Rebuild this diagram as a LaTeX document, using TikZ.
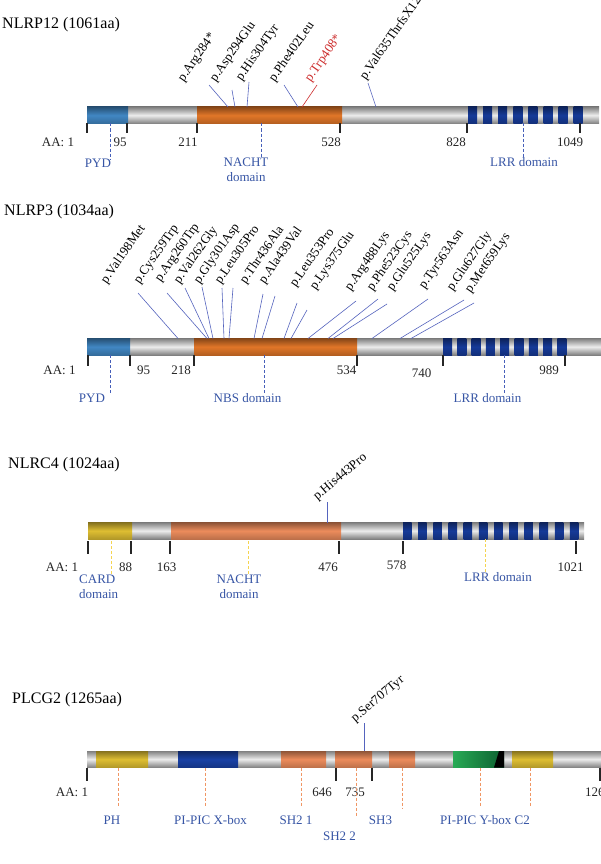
\documentclass[tikz,border=0pt]{standalone}
\usepackage{fontspec}
\setmainfont{Liberation Serif}
\definecolor{barD}{RGB}{128,128,128}
\definecolor{barL}{RGB}{236,236,236}
\definecolor{orgA}{RGB}{225,118,40}
\definecolor{orgB}{RGB}{236,140,92}
\definecolor{pydblue}{RGB}{65,135,195}
\definecolor{lrrblue}{RGB}{22,58,152}
\definecolor{cardyel}{RGB}{222,190,50}
\definecolor{xblue}{RGB}{25,65,165}
\definecolor{ygreenL}{RGB}{40,170,85}
\definecolor{ygreenD}{RGB}{12,95,48}
\definecolor{lbl}{RGB}{55,85,165}
\definecolor{mut}{RGB}{85,100,190}
\definecolor{mred}{RGB}{205,45,45}
\definecolor{dashB}{RGB}{70,95,185}
\definecolor{dashY}{RGB}{245,212,80}
\definecolor{dashO}{RGB}{240,150,100}
\tikzset{
  ptitle/.style={anchor=west, inner sep=0pt, font=\fontsize{16}{19}\selectfont},
  num/.style={inner sep=0pt, font=\fontsize{13}{15}\selectfont, text=black!85},
  dlbl/.style={inner sep=0pt, font=\fontsize{13}{15}\selectfont, text=lbl, align=center},
  mlbl/.style={inner sep=0pt, anchor=south west, font=\fontsize{13}{15}\selectfont},
  mline/.style={draw=mut, line width=0.6pt},
  tickln/.style={line width=1.3pt, draw=black!85},
  dB/.style={draw=dashB, dash pattern=on 3pt off 2pt, line width=0.7pt},
  dY/.style={draw=dashY, dash pattern=on 3pt off 2pt, line width=0.7pt},
  dO/.style={draw=dashO, dash pattern=on 3pt off 2pt, line width=0.7pt},
}
\newcommand\greybar[3]{\shade[top color=barD, bottom color=barD, middle color=barL] (#1,#2) rectangle (#3,#2+16.5);}
\newcommand\dom[5]{\shade[top color=#5!60!black, bottom color=#5!80!black, middle color=#5] (#1,#3) rectangle (#2,#4);}
\begin{document}
\begin{tikzpicture}[x=1pt,y=-1pt]
\useasboundingbox (0,0) rectangle (601,864);
\fill[white] (0,0) rectangle (601,864);

%%%%%%%%%%%%%%%% NLRP12
\node[ptitle] (t1) at (2,25) {NLRP12 (1061aa)};
\greybar{87}{107}{599}
\dom{87}{128}{107}{123.5}{pydblue}
\dom{197}{342}{107}{123.5}{orgA}
\foreach \i in {0,...,7}{\dom{468+15.1*\i}{477+15.1*\i}{107}{123.5}{lrrblue}}
\foreach \x in {87,127,197,340,467,580}{\draw[tickln] (\x,123.5) -- (\x,133);}
\node[num] (n1a) at (58,142) {AA: 1};
\node[num] (n1b) at (120,142) {95};
\node[num] (n1c) at (188,142) {211};
\node[num] (n1d) at (331,142) {528};
\node[num] (n1e) at (456,142) {828};
\node[num] (n1f) at (570,142) {1049};
\node[dlbl] (d1a) at (98,163) {PYD};
\node[dlbl] (d1b) at (246,169.5) {NACHT\\domain};
\node[dlbl] (d1c) at (524,162) {LRR domain};
\coordinate (d1at) at (110,123.5);
\coordinate (d1bt) at (261,123.5);
\coordinate (d1ct) at (523,123.5);
\draw[dB] (d1at) -- (d1at |- d1a.north);
\draw[dB] (d1bt) -- (d1bt |- d1b.north);
\draw[dB] (d1ct) -- (d1ct |- d1c.north);
\foreach \n/\tx/\ty/\bx/\by/\lx/\ly/\txt in {
  a1/209/85/228/107/186/84/p.Arg284*,
  a2/232/90/235/107/218/84/p.Asp294Glu,
  a3/249/82/247/107/244/83/p.His304Tyr,
  a4/284/85/298/107/277/84/p.Phe402Leu,
  a6/368/83/376/107/368/82/p.Val635ThrfsX12}{
  \coordinate (\n-t) at (\tx,\ty);
  \coordinate (\n-b) at (\bx,\by);
  \draw[mline] (\n-t) -- (\n-b);
  \node[mlbl, rotate=55] (\n-l) at (\lx,\ly) {\txt};
}
\coordinate (a5-t) at (317,85);
\coordinate (a5-b) at (302,107);
\draw[mline, draw=mred] (a5-t) -- (a5-b);
\node[mlbl, rotate=55, text=mred] (a5-l) at (313,84) {p.Trp408*};

%%%%%%%%%%%%%%%% NLRP3
\node[ptitle] (t2) at (4,212) {NLRP3 (1034aa)};
\greybar{87}{338.5}{601}
\dom{87}{130}{338.5}{355}{pydblue}
\dom{194}{357}{338.5}{355}{orgA}
\foreach \i in {0,...,8}{\dom{443+14.3*\i}{452+14.3*\i}{338.5}{355}{lrrblue}}
\foreach \x in {88,130,194,357,443,565}{\draw[tickln] (\x,355) -- (\x,366);}
\node[num] (n2a) at (59.5,370) {AA: 1};
\node[num] (n2b) at (143.5,370) {95};
\node[num] (n2c) at (181,370) {218};
\node[num] (n2d) at (346.5,370) {534};
\node[num] (n2e) at (421.5,373) {740};
\node[num] (n2f) at (549,370) {989};
\node[dlbl] (d2a) at (92,398) {PYD};
\node[dlbl] (d2b) at (247.5,398) {NBS domain};
\node[dlbl] (d2c) at (487.5,398) {LRR domain};
\coordinate (d2at) at (110,355);
\coordinate (d2bt) at (264,355);
\coordinate (d2ct) at (504,355);
\draw[dB] (d2at) -- (d2at |- d2a.north);
\draw[dB] (d2bt) -- (d2bt |- d2b.north);
\draw[dB] (d2ct) -- (d2ct |- d2c.north);
\foreach \n/\tx/\ty/\bx/\by/\lx/\ly/\txt in {
  b1/138/293/178/338.5/109/286/p.Val198Met,
  b2/167/293/207/338.5/142/286/p.Cys259Trp,
  b3/185/288/209/338.5/163/284/p.Arg260Trp,
  b4/202/287/213/338.5/182/286/p.Val262Gly,
  b5/222/288/224/338.5/202/286/p.Gly301Asp,
  b6/233/288/229/338.5/223/286/p.Leu305Pro,
  b7/263/294/254/338.5/248/286/p.Thr436Ala,
  b8/275/296/262/338.5/267/286/p.Ala439Val,
  b9/297/303/284/338.5/298/289/p.Leu353Pro,
  b10/307/310/291/338.5/318/292/p.Lys375Glu,
  b11/356/301/308/338.5/353/293/p.Arg488Lys,
  b12/378/299/328/338.5/375/293/p.Phe523Cys,
  b13/387/304/333/338.5/395/293/p.Glu525Lys,
  b14/428/299/372/338.5/427/291/p.Tyr563Asn,
  b15/464/300/400/338.5/455/293/p.Glu627Gly,
  b16/474/303/411/338.5/473/295/p.Met659Lys}{
  \coordinate (\n-t) at (\tx,\ty);
  \coordinate (\n-b) at (\bx,\by);
  \draw[mline] (\n-t) -- (\n-b);
  \node[mlbl, rotate=55] (\n-l) at (\lx,\ly) {\txt};
}

%%%%%%%%%%%%%%%% NLRC4
\node[ptitle] (t3) at (8,465) {NLRC4 (1024aa)};
\greybar{88}{522.5}{584}
\dom{88}{132}{522.5}{539}{cardyel}
\dom{171}{341}{522.5}{539}{orgB}
\foreach \i in {0,...,11}{\dom{403+15.18*\i}{411.5+15.18*\i}{522.5}{539}{lrrblue}}
\foreach \x in {88,131,170,339,403,576}{\draw[tickln] (\x,541) -- (\x,554);}
\node[num] (n3a) at (62,567) {AA: 1};
\node[num] (n3b) at (125.5,567) {88};
\node[num] (n3c) at (166.5,567) {163};
\node[num] (n3d) at (328,567) {476};
\node[num] (n3e) at (396.5,565) {578};
\node[num] (n3f) at (570.5,567) {1021};
\node[dlbl, align=left, anchor=west] (d3a) at (79,587) {CARD\\domain};
\node[dlbl] (d3b) at (239,587) {NACHT\\domain};
\node[dlbl] (d3c) at (498,577) {LRR domain};
\coordinate (d3at) at (111,541);
\coordinate (d3bt) at (248,541);
\coordinate (d3ct) at (485,539);
\draw[dY] (d3at) -- (d3at |- d3a.north);
\draw[dY] (d3bt) -- (d3bt |- d3b.north);
\draw[dY] (d3ct) -- (d3ct |- d3c.north);
\coordinate (c1-t) at (327,502);
\coordinate (c1-b) at (327,522.5);
\draw[mline] (c1-t) -- (c1-b);
\node[mlbl, rotate=40] (c1-l) at (319,503) {p.His443Pro};

%%%%%%%%%%%%%%%% PLCG2
\node[ptitle] (t4) at (12,700) {PLCG2 (1265aa)};
\greybar{87}{751}{601}
\dom{96}{148}{751}{767.5}{cardyel}
\dom{178}{238}{751}{767.5}{xblue}
\dom{281}{326}{751}{767.5}{orgB}
\dom{335}{372}{751}{767.5}{orgB}
\dom{389}{415}{751}{767.5}{orgB}
\shade[left color=ygreenL, right color=ygreenD] (453,751) rectangle (504,767.5);
\fill[black] (499,751) -- (504,751) -- (504,767.5) -- (494,767.5) -- cycle;
\dom{512}{553}{751}{767.5}{cardyel}
\foreach \x in {87,336,372,600}{\draw[tickln] (\x,767.5) -- (\x,781);}
\node[num] (n4a) at (72,792) {AA: 1};
\node[num] (n4b) at (322,792) {646};
\node[num] (n4c) at (355,792) {735};
\node[num, anchor=west] (n4d) at (585,792) {1265};
\node[dlbl] (d4a) at (112,820) {PH};
\node[dlbl] (d4b) at (210.5,820) {PI-PIC X-box};
\node[dlbl] (d4c) at (296,820) {SH2 1};
\node[dlbl] (d4d) at (339.5,836) {SH2 2};
\node[dlbl] (d4e) at (380.5,820) {SH3};
\node[dlbl] (d4f) at (485,820) {PI-PIC Y-box C2};
\foreach \n/\x/\ye in {pa/118/807, pb/205/807, pc/301/807, pd/356/817, pe/402/808, pf/480/807, pg/530/807}{
  \coordinate (\n-t) at (\x,767.5);
  \coordinate (\n-e) at (\x,\ye);
  \draw[dO] (\n-t) -- (\n-e);
}
\coordinate (e1-t) at (364,723);
\coordinate (e1-b) at (364,751);
\draw[mline] (e1-t) -- (e1-b);
\node[mlbl, rotate=40] (e1-l) at (357,725) {p.Ser707Tyr};
\end{tikzpicture}
\end{document}
